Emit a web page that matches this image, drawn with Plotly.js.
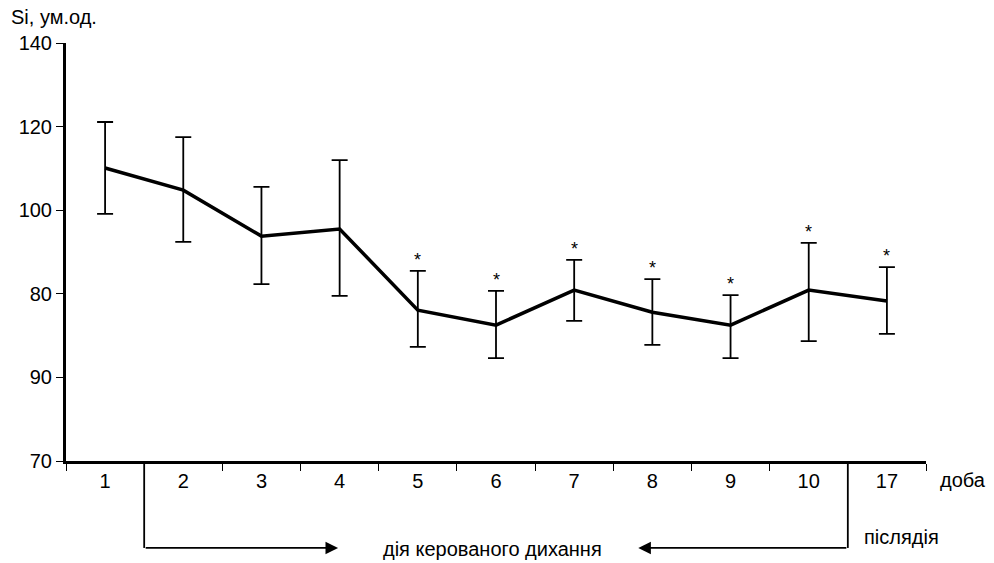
<!DOCTYPE html>
<html>
<head>
<meta charset="utf-8">
<script src="https://cdn.plot.ly/plotly-3.0.1.min.js"></script>
<style>html,body{margin:0;padding:0;background:#fff;}#chart{width:994px;height:563px;}</style>
</head>
<body>
<div id="chart"></div>
<script>
const days = ['1','2','3','4','5','6','7','8','9','10','17'];
const means = [110.1, 104.8, 93.8, 95.5, 76.1, 72.5, 80.9, 75.6, 72.5, 80.9, 78.3];
const errPlus = [11.0, 12.7, 11.8, 16.5, 9.4, 8.2, 7.2, 7.9, 7.2, 11.3, 8.1];
const errMinus = [11.0, 12.4, 11.5, 16.0, 8.8, 7.9, 7.4, 7.8, 7.9, 12.2, 7.9];
const significant = [false, false, false, false, true, true, true, true, true, true, true];
const yTickVals = [40, 60, 80, 100, 120, 140];
const yTickText = ['70', '90', '80', '100', '120', '140'];

const font = {family: 'Liberation Sans, Arial, sans-serif', size: 20, color: '#000'};

const trace = {
  x: days, y: means, type: 'scatter', mode: 'lines',
  line: {color: '#000', width: 3.5},
  error_y: {type: 'data', symmetric: false, array: errPlus, arrayminus: errMinus,
            color: '#000', thickness: 1.8, width: 8},
  hoverinfo: 'none', showlegend: false
};

const annotations = [];
days.forEach((d, i) => {
  if (significant[i]) {
    annotations.push({x: i, y: means[i] + errPlus[i], xref: 'x', yref: 'y',
      text: '*', showarrow: false, yshift: 11, font: {family: font.family, size: 18, color: '#000'}});
  }
});
annotations.push({xref: 'paper', yref: 'paper', x: -0.066, y: 1.03, xanchor: 'left', yanchor: 'bottom',
  text: 'Si, ум.од.', showarrow: false, font: font});
annotations.push({xref: 'paper', yref: 'paper', x: 1.014, y: -0.046, xanchor: 'left', yanchor: 'middle',
  text: 'доба', showarrow: false, font: font});
annotations.push({xref: 'paper', yref: 'paper', x: 0.496, y: -0.21, xanchor: 'center', yanchor: 'middle',
  text: 'дія керованого дихання', showarrow: false, font: font});
annotations.push({xref: 'paper', yref: 'paper', x: 0.926, y: -0.183, xanchor: 'left', yanchor: 'middle',
  text: 'післядія', showarrow: false, font: font});
// arrows
annotations.push({xref: 'x', yref: 'paper', x: 2.98, y: -0.208, axref: 'x', ayref: 'paper', ax: 0.5, ay: -0.208,
  showarrow: true, arrowhead: 2, arrowsize: 1.4, arrowwidth: 1.8, arrowcolor: '#000', text: ''});
annotations.push({xref: 'x', yref: 'paper', x: 6.82, y: -0.208, axref: 'x', ayref: 'paper', ax: 9.5, ay: -0.208,
  showarrow: true, arrowhead: 2, arrowsize: 1.4, arrowwidth: 1.8, arrowcolor: '#000', text: ''});

const shapes = [
  {type: 'line', xref: 'x', yref: 'paper', x0: 0.5, x1: 0.5, y0: 0, y1: -0.208, line: {color: '#000', width: 1.8}},
  {type: 'line', xref: 'x', yref: 'paper', x0: 9.5, x1: 9.5, y0: 0, y1: -0.208, line: {color: '#000', width: 1.8}}
];

const layout = {
  width: 994, height: 563,
  margin: {l: 66, r: 68, t: 43, b: 102},
  paper_bgcolor: '#fff', plot_bgcolor: '#fff',
  font: font,
  showlegend: false,
  xaxis: {type: 'category', range: [-0.5, 10.5], showgrid: false, zeroline: false,
    showline: true, linecolor: '#000', linewidth: 3,
    ticks: 'outside', tickson: 'boundaries', ticklen: 7, tickwidth: 1, tickcolor: '#000',
    tickfont: font, fixedrange: true},
  yaxis: {range: [40, 140], tickvals: yTickVals, ticktext: yTickText, showgrid: false, zeroline: false,
    showline: true, linecolor: '#000', linewidth: 3,
    ticks: 'outside', ticklen: 7, tickwidth: 1, tickcolor: '#000', tickfont: font, fixedrange: true},
  annotations: annotations,
  shapes: shapes
};

Plotly.newPlot('chart', [trace], layout, {displayModeBar: false, staticPlot: true});
</script>
</body>
</html>
